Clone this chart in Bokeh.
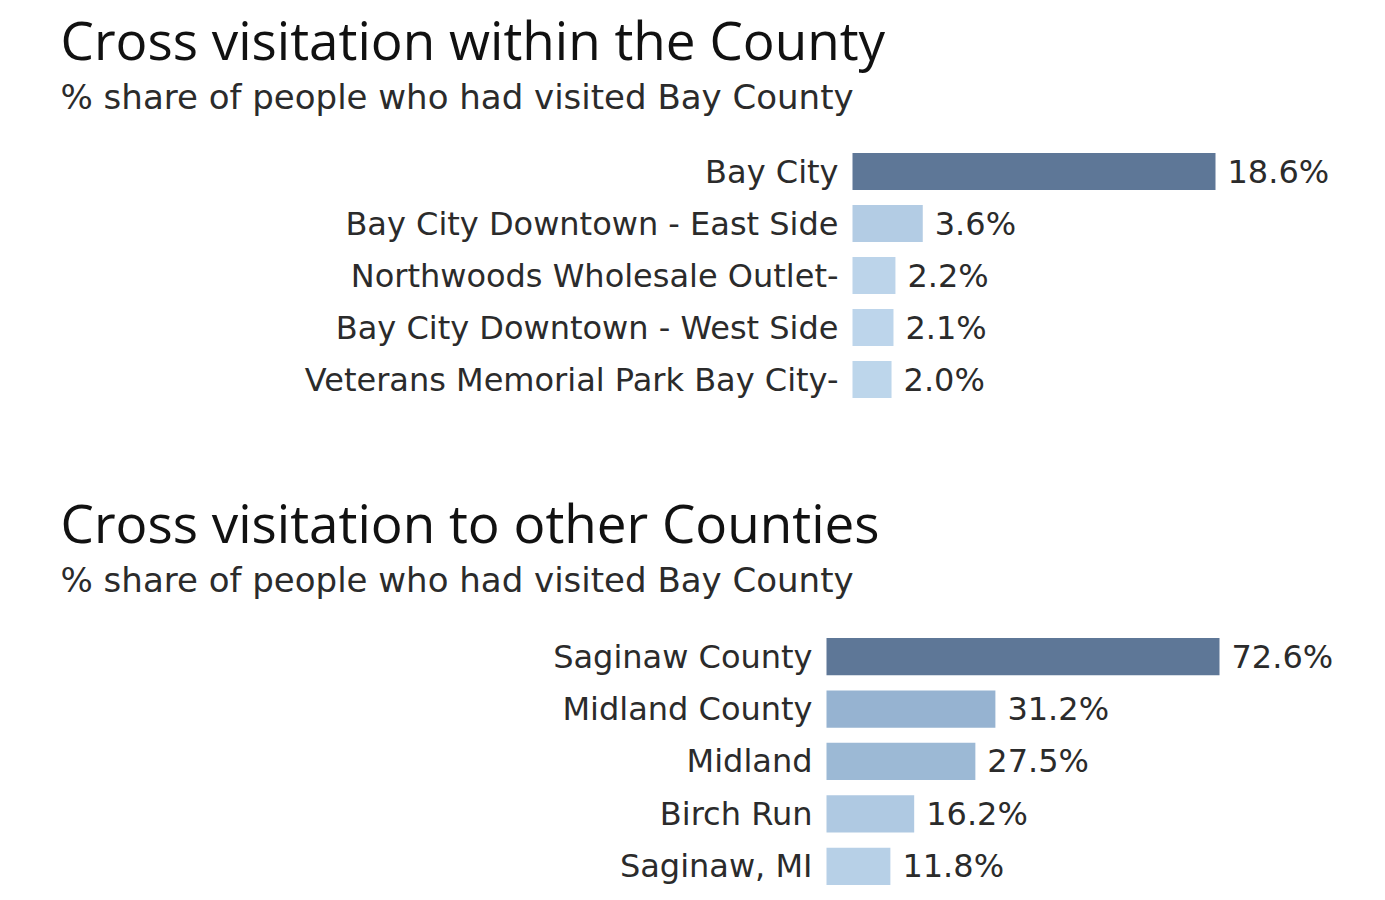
from bokeh.plotting import figure
from bokeh.models import ColumnDataSource, Range1d, Title
from bokeh.layouts import column
from bokeh.transform import linear_cmap
from bokeh.core.properties import value
from bokeh.embed import file_html
from bokeh.resources import INLINE

# ---------------- data ----------------
title1 = "Cross visitation within the County"
subtitle1 = "% share of people who had visited Bay County"
places1 = ["Bay City", "Bay City Downtown - East Side", "Northwoods Wholesale Outlet-",
           "Bay City Downtown - West Side", "Veterans Memorial Park Bay City-"]
shares1 = [18.6, 3.6, 2.2, 2.1, 2.0]

title2 = "Cross visitation to other Counties"
subtitle2 = "% share of people who had visited Bay County"
places2 = ["Saginaw County", "Midland County", "Midland", "Birch Run", "Saginaw, MI"]
shares2 = [72.6, 31.2, 27.5, 16.2, 11.8]

# ---------------- style ----------------
STOPS = [(0.0, (202, 225, 244)), (0.43, (150, 179, 209)), (1.0, (94, 119, 151))]


def _col(t):
    for (t0, c0), (t1, c1) in zip(STOPS[:-1], STOPS[1:]):
        if t <= t1:
            f = (t - t0) / (t1 - t0)
            return "#%02x%02x%02x" % tuple(int(round(c0[i] + (c1[i] - c0[i]) * f)) for i in range(3))
    return "#%02x%02x%02x" % STOPS[-1][1]


PALETTE = [_col(k / 255) for k in range(256)]
TITLE_FONT = "Open Sans"
LABEL_FONT = "DejaVu Sans"
W = 1350


def make_chart(title, subtitle, cats, vals, origin_px, px_per_unit, bottom_border,
               row_px, top_pad):
    n = len(cats)
    rank = list(range(n - 1, -1, -1))   # first category drawn at the top
    src = ColumnDataSource(dict(cat=cats, val=vals, rank=rank,
                                lbl=[f"{v:.1f}%" for v in vals]))
    x0 = -origin_px / px_per_unit
    x1 = (W - origin_px) / px_per_unit
    p = figure(frame_width=W, frame_height=int(round(n * row_px + top_pad)),
               y_range=Range1d(-0.5, n - 0.5 + top_pad / row_px),
               x_range=Range1d(x0, x1),
               output_backend="svg", toolbar_location=None, title=None,
               min_border_left=0, min_border_right=0, min_border_top=0,
               min_border_bottom=bottom_border)
    p.axis.visible = False
    p.grid.visible = False
    p.outline_line_color = None
    p.background_fill_color = "white"
    p.border_fill_color = "white"

    p.hbar(y="rank", left=0, right="val", height=0.71, source=src,
           fill_color=linear_cmap("val", PALETTE, 0, max(vals)), line_color=None)
    p.text(x=0, y="rank", text="cat", source=src, x_offset=-14, text_align="right",
           text_baseline="middle", text_font=value(LABEL_FONT), text_font_size="32px",
           text_color="#2b2b2b")
    p.text(x="val", y="rank", text="lbl", source=src, x_offset=12, text_align="left",
           text_baseline="middle", text_font=value(LABEL_FONT), text_font_size="32px",
           text_color="#2b2b2b")

    p.add_layout(Title(text=subtitle, align="left", offset=60, text_font=LABEL_FONT,
                       text_font_size="34px", text_font_style="normal",
                       text_color="#2b2b2b", standoff=-2), "above")
    p.add_layout(Title(text=title, align="left", offset=60, text_font=TITLE_FONT,
                       text_font_size="53px", text_font_style="normal",
                       text_color="#111111", standoff=0), "above")
    return p


p1 = make_chart(title1, subtitle1, places1, shares1, 852, 363 / 18.6, 78, 52, 30)
p2 = make_chart(title2, subtitle2, places2, shares2, 826, 393 / 72.6, 0, 52.5, 32)

layout = column(p1, p2, spacing=0)
open("out.html", "w").write(file_html(layout, INLINE))
